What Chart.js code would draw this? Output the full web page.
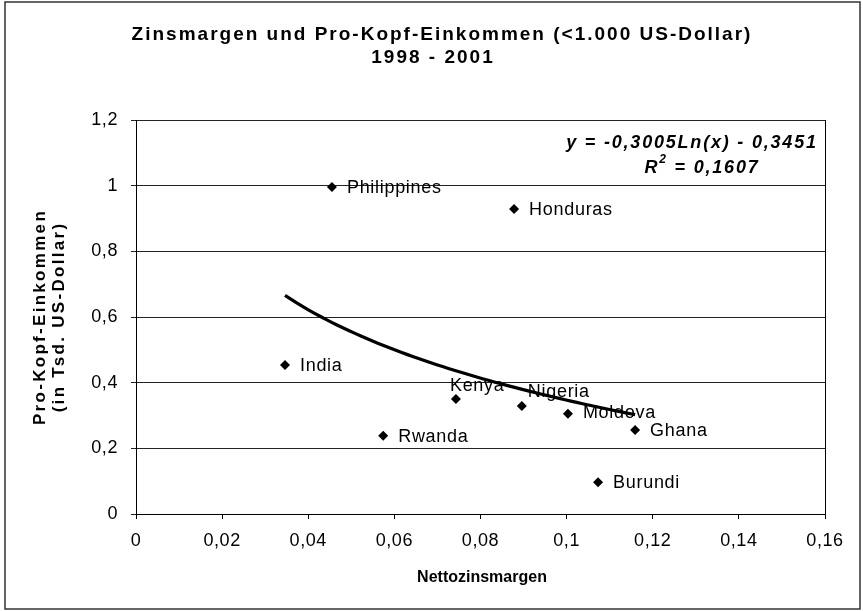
<!DOCTYPE html>
<html lang="de">
<head>
  <meta charset="UTF-8">
  <title>Zinsmargen und Pro-Kopf-Einkommen</title>
  <script src="https://cdn.jsdelivr.net/npm/chart.js"></script>
  <style>
    html, body { margin: 0; padding: 0; background: #fff; }
    canvas { display: block; }
  </style>
</head>
<body>
<canvas id="chart" width="863" height="611"></canvas>

<script>
// values
const countries  = ['Philippines', 'Honduras', 'India', 'Kenya', 'Nigeria', 'Moldova', 'Ghana', 'Rwanda', 'Burundi'];
const zinsmargen = [0.0455, 0.0878, 0.0346, 0.0743, 0.0896, 0.1003, 0.1159, 0.0574, 0.1073];
const einkommen  = [0.996, 0.929, 0.454, 0.350, 0.329, 0.305, 0.256, 0.238, 0.097];

const xTicks = [0, 0.02, 0.04, 0.06, 0.08, 0.10, 0.12, 0.14, 0.16];
const yTicks = [0, 0.2, 0.4, 0.6, 0.8, 1.0, 1.2];

// logarithmic trendline as printed in the chart: y = a*ln(x) + b
const trendA = -0.3005;
const trendB = -0.3451;
const trendR2 = '0,1607';

const titleLines = ['Zinsmargen und Pro-Kopf-Einkommen (<1.000 US-Dollar)', '1998 - 2001'];
const xTitle = 'Nettozinsmargen';
const yTitle = ['Pro-Kopf-Einkommen', '(in Tsd. US-Dollar)'];

// where a label sits relative to its marker (default: right of it)
const labelShift = {
  Kenya:   { dx: -6, dy: -13 },
  Nigeria: { dx: 6,  dy: -14 },
  Moldova: { dx: 15, dy: -1 }
};

const FONT = '"Liberation Sans", Arial, sans-serif';

const points = zinsmargen.map((x, i) => ({ x: x, y: einkommen[i] }));

const trendPts = [];
const xMin = Math.min(...zinsmargen), xMax = Math.max(...zinsmargen);
for (let i = 0; i <= 60; i++) {
  const x = xMin + (xMax - xMin) * i / 60;
  trendPts.push({ x: x, y: trendA * Math.log(x) + trendB });
}

function fmt(v) {
  return String(+v.toFixed(2)).replace('.', ',');
}

function txt(ctx, s, x, y, font, align, spacing, rot) {
  ctx.save();
  ctx.font = font;
  ctx.fillStyle = '#000';
  ctx.textAlign = align;
  ctx.textBaseline = 'middle';
  ctx.letterSpacing = spacing + 'px';
  ctx.translate(x, y);
  if (rot) ctx.rotate(rot);
  ctx.fillText(s, 0, 0);
  ctx.restore();
}

const decor = {
  id: 'decor',
  beforeDraw(chart) {
    chart.ctx.letterSpacing = '0.6px';
  },
  afterDraw(chart) {
    const ctx = chart.ctx;
    const a = chart.chartArea;
    ctx.letterSpacing = '0px';

    // outer frame and right edge of the plot area
    ctx.save();
    ctx.strokeStyle = '#333';
    ctx.lineWidth = 1.5;
    ctx.strokeRect(5, 2, 855, 607);
    ctx.strokeStyle = '#000';
    ctx.lineWidth = 1;
    ctx.beginPath();
    ctx.moveTo(Math.round(a.right) + 0.5, a.top);
    ctx.lineTo(Math.round(a.right) + 0.5, a.bottom);
    ctx.stroke();
    ctx.restore();

    // title
    txt(ctx, titleLines[0], 442, 35, 'bold 19px ' + FONT, 'center', 2);
    txt(ctx, titleLines[1], 433, 58, 'bold 19px ' + FONT, 'center', 2);

    // axis titles
    txt(ctx, xTitle, 482, 578, 'bold 16px ' + FONT, 'center', 0);
    const cy = (a.top + a.bottom) / 2;
    txt(ctx, yTitle[0], 40, cy, 'bold 17px ' + FONT, 'center', 2.3, -Math.PI / 2);
    txt(ctx, yTitle[1], 59, cy, 'bold 17px ' + FONT, 'center', 2.3, -Math.PI / 2);

    // data labels
    const meta = chart.getDatasetMeta(0);
    meta.data.forEach((el, i) => {
      const sh = labelShift[countries[i]] || { dx: 15, dy: 1 };
      txt(ctx, countries[i], el.x + sh.dx, el.y + sh.dy, '18px ' + FONT, 'left', 0.7);
    });

    // trendline equation
    const eqFont = 'italic bold 18px ' + FONT;
    const supFont = 'italic bold 12px ' + FONT;
    txt(ctx, 'y = -0,3005Ln(x) - 0,3451', 692, 143, eqFont, 'center', 1.8);
    ctx.save();
    ctx.letterSpacing = '1.8px';
    ctx.font = eqFont;
    const wR = ctx.measureText('R').width;
    const wRest = ctx.measureText(' = ' + trendR2).width;
    ctx.font = supFont;
    const w2 = ctx.measureText('2').width;
    ctx.restore();
    const x0 = 702 - (wR + w2 + wRest) / 2;
    txt(ctx, 'R', x0, 168, eqFont, 'left', 1.8);
    txt(ctx, '2', x0 + wR, 160, supFont, 'left', 1.8);
    txt(ctx, ' = ' + trendR2, x0 + wR + w2, 168, eqFont, 'left', 1.8);
  }
};

new Chart(document.getElementById('chart'), {
  type: 'scatter',
  data: {
    datasets: [
      {
        label: 'Länder',
        data: points,
        pointStyle: 'rectRot',
        pointRadius: 5,
        backgroundColor: '#000',
        borderColor: '#000',
        borderWidth: 0
      },
      {
        label: 'Trend',
        type: 'line',
        data: trendPts,
        borderColor: '#000',
        borderWidth: 3.2,
        pointRadius: 0,
        fill: false,
        tension: 0
      }
    ]
  },
  options: {
    responsive: false,
    animation: false,
    events: [],
    layout: { padding: { left: 0, right: 38, top: 120, bottom: 0 } },
    plugins: {
      legend: { display: false },
      title: { display: false },
      tooltip: { enabled: false }
    },
    scales: {
      x: {
        type: 'linear',
        min: 0,
        max: 0.16,
        afterBuildTicks: s => { s.ticks = xTicks.map(v => ({ value: v })); },
        afterFit: s => { s.height = 97; },
        grid: { drawOnChartArea: false, drawTicks: true, tickLength: 5, color: '#000' },
        border: { color: '#000', width: 1 },
        ticks: {
          color: '#000',
          font: { family: FONT, size: 18 },
          padding: 11,
          maxRotation: 0,
          autoSkip: false,
          callback: v => fmt(v)
        }
      },
      y: {
        type: 'linear',
        min: 0,
        max: 1.2,
        afterBuildTicks: s => { s.ticks = yTicks.map(v => ({ value: v })); },
        afterFit: s => { s.width = 136; },
        grid: { color: '#222', lineWidth: 1, tickLength: 5 },
        border: { color: '#000', width: 1 },
        ticks: {
          color: '#000',
          font: { family: FONT, size: 18 },
          padding: 13,
          autoSkip: false,
          callback: v => fmt(v)
        }
      }
    }
  },
  plugins: [decor]
});
</script>
</body>
</html>
